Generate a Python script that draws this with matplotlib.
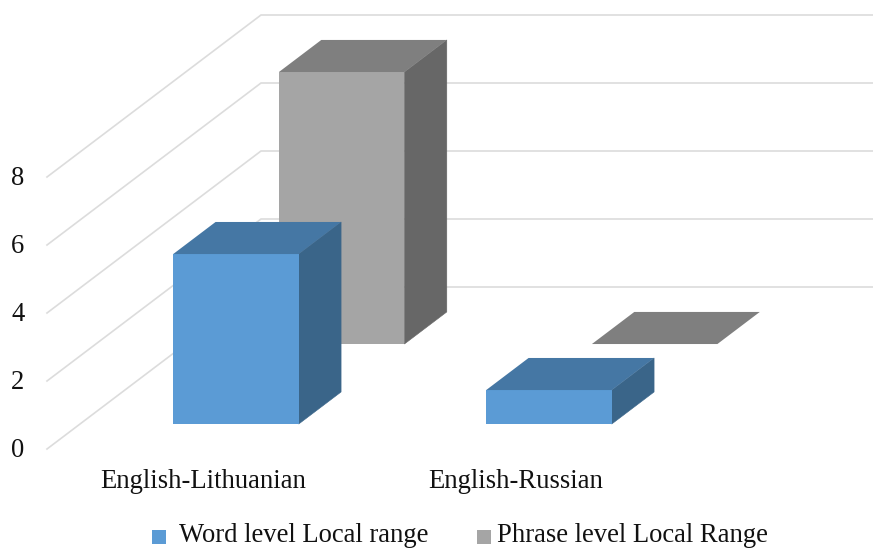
import numpy as np
import matplotlib
matplotlib.use('Agg')
import matplotlib.pyplot as plt
from matplotlib.patches import Polygon, Rectangle

plt.rcParams['font.family'] = ['Liberation Serif', 'DejaVu Serif']

categories = ['English-Lithuanian', 'English-Russian']
word_level = [5, 1]
phrase_level = [8, 0]
series_names = ['Word level Local range', 'Phrase level Local Range']
y_ticks = [0, 2, 4, 6, 8]

W, H = 873, 549
CAT_PX = 313.0    # one category along x
UNIT_PX = 34.0    # one value unit along y
FLOOR_DX = 214.0 / CAT_PX    # shift of the back wall
FLOOR_DY = 162.0 / UNIT_PX
BAR_W = 125.5 / CAT_PX
DEPTH_FRONT = [0.154, 0.648]
DEPTH_SIZE = 0.198
FONT = 19.2


def oblique(x, v, d):
    return x + d * FLOOR_DX, v + d * FLOOR_DY


def draw_bar(ax, xc, val, d0, front, top, side, z):
    d1 = d0 + DEPTH_SIZE
    xl = xc - BAR_W / 2
    xr = xc + BAR_W / 2
    x0, b0 = oblique(0, 0, d0)
    if val > 0:
        sidepts = [oblique(xr, 0, d0), oblique(xr, 0, d1), oblique(xr, val, d1), oblique(xr, val, d0)]
        ax.add_patch(Polygon(sidepts, closed=True, fc=side, ec=side, lw=0.4, zorder=z))
        ax.bar(xc + x0, val, BAR_W, bottom=b0, color=front, edgecolor='none', zorder=z)
    toppts = [oblique(xl, val, d0), oblique(xr, val, d0), oblique(xr, val, d1), oblique(xl, val, d1)]
    ax.add_patch(Polygon(toppts, closed=True, fc=top, ec='none', zorder=z))


fig = plt.figure(figsize=(W / 100, H / 100), dpi=100)
ax = fig.add_axes([0, 0, 1, 1])
ax.set_xlim(-203 / CAT_PX, (W - 203) / CAT_PX)
ax.set_ylim(-(H - 449) / UNIT_PX, 449 / UNIT_PX)
ax.axis('off')

# wall and floor lines
x_left = -156 / CAT_PX
x_right = x_left + 2.1
for v in y_ticks:
    xs, ys = zip(oblique(x_left, v, 0), oblique(x_left, v, 1), oblique(x_right, v, 1))
    ax.plot(xs, ys, color='#dcdcdc', lw=1.2, zorder=1, solid_joinstyle='miter')
    ax.text(-185 / CAT_PX, v - 0.03, str(v), ha='center', va='center', fontsize=FONT, color='#111111')

# back row first, then the front row over it
for i in range(len(categories)):
    draw_bar(ax, i, phrase_level[i], DEPTH_FRONT[1], '#a5a5a5', '#7f7f7f', '#676767', 2)
for i in range(len(categories)):
    draw_bar(ax, i, word_level[i], DEPTH_FRONT[0], '#5b9bd5', '#4577a4', '#3a6589', 3)

for i, name in enumerate(categories):
    ax.text(i, -33 / UNIT_PX, name, ha='center', va='center', fontsize=FONT, color='#111111')

# legend along the bottom
fig.add_artist(Rectangle((152 / W, 1 - 544 / H), 14 / W, 14 / H, transform=fig.transFigure, fc='#5b9bd5', ec='none'))
fig.add_artist(Rectangle((477 / W, 1 - 544 / H), 14 / W, 14 / H, transform=fig.transFigure, fc='#a5a5a5', ec='none'))
fig.text(179 / W, 1 - 542.5 / H, series_names[0], ha='left', va='baseline', fontsize=FONT, color='#111111')
fig.text(497 / W, 1 - 542.5 / H, series_names[1], ha='left', va='baseline', fontsize=FONT, color='#111111')

fig.savefig('out.png', dpi=100)
